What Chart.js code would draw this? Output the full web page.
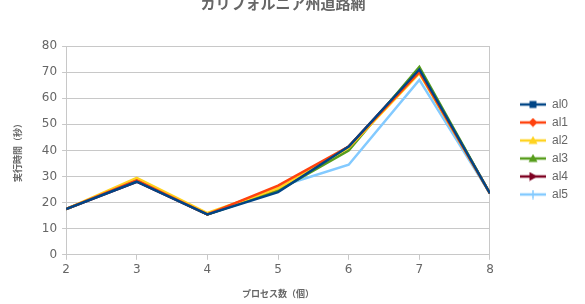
<!DOCTYPE html>
<html>
<head>
<meta charset="utf-8">
<script src="https://cdn.jsdelivr.net/npm/chart.js@4"></script>
<style>
  html, body { margin: 0; padding: 0; background: #fff; }
  #wrap { width: 585px; height: 304px; }
</style>
</head>
<body>
<div id="wrap"><canvas id="c" width="585" height="304"></canvas></div>
<script>
// プロセス数ごとの実行時間 (秒)
const procs = [2, 3, 4, 5, 6, 7, 8];
const al0 = [17.5, 28, 15.5, 24, 41.5, 71, 23.5];
const al1 = [17.5, 28.5, 15.5, 26.5, 41.5, 70, 23.5];
const al2 = [17.5, 29.5, 16, 25.5, 41, 69.5, 23.5];
const al3 = [17.5, 28.5, 15.5, 24.5, 40, 72, 23.5];
const al4 = [17.5, 28, 15.5, 25, 41.5, 71, 23.5];
const al5 = [17.5, 28.5, 15.5, 26, 34.5, 67, 23.5];

const names = ["al0", "al1", "al2", "al3", "al4", "al5"];
const series = [al0, al1, al2, al3, al4, al5];
const colors = ["#004586", "#ff420e", "#ffd320", "#579d1c", "#7e0021", "#83caff"];
const markers = ["square", "diamond", "triUp", "triUp", "triRight", "cross"];

// legend icon: short line + marker, like the office chart
function makeIcon(color, shape){
  const cv = document.createElement("canvas");
  cv.width = 26; cv.height = 10;
  const g = cv.getContext("2d");
  g.strokeStyle = color; g.fillStyle = color;
  g.lineWidth = 2.5;
  g.beginPath(); g.moveTo(0, 5); g.lineTo(26, 5); g.stroke();
  const cx = 13, cy = 5, r = 3.5;
  g.beginPath();
  if (shape === "square") g.rect(cx - r, cy - r, 2*r, 2*r);
  else if (shape === "diamond") { g.moveTo(cx, cy-r-1); g.lineTo(cx+r+1, cy); g.lineTo(cx, cy+r+1); g.lineTo(cx-r-1, cy); g.closePath(); }
  else if (shape === "triUp") { g.moveTo(cx, cy-r-1); g.lineTo(cx+r+1, cy+r); g.lineTo(cx-r-1, cy+r); g.closePath(); }
  else if (shape === "triRight") { g.moveTo(cx+r+1, cy); g.lineTo(cx-r, cy-r-1); g.lineTo(cx-r, cy+r+1); g.closePath(); }
  if (shape === "cross") { g.lineWidth = 1.5; g.moveTo(cx, cy-r-1); g.lineTo(cx, cy+r+1); g.stroke(); }
  else g.fill();
  return cv;
}

const datasets = names.map((n, i) => ({
  label: n,
  data: series[i].map((v, k) => ({ x: procs[k], y: v })),
  borderColor: colors[i],
  backgroundColor: colors[i],
  borderWidth: 2.5,
  pointRadius: 0,
  pointStyle: makeIcon(colors[i], markers[i]),
  tension: 0
}));

const gridGray = "#c8c8c8";
const LEGEND_SHIFT = 24; // legend sits a bit right of where chart.js centres it

const legendShift = {
  id: "legendShift",
  afterLayout(chart){
    chart.legend.left += LEGEND_SHIFT;
    chart.legend.right += LEGEND_SHIFT;
  }
};

new Chart(document.getElementById("c"), {
  type: "line",
  data: { datasets },
  plugins: [legendShift],
  options: {
    responsive: false,
    animation: false,
    layout: { padding: { left: 12, right: 31, top: 0, bottom: 5 } },
    plugins: {
      title: {
        display: true,
        text: "カリフォルニア州道路網",
        color: "#666",
        font: { family: "Noto Sans CJK JP", size: 15, weight: "bold" },
        padding: { top: -6, bottom: 34 }
      },
      legend: {
        position: "right",
        align: "center",
        labels: {
          usePointStyle: true,
          pointStyleWidth: 26,
          color: "#666",
          font: { family: "Liberation Sans", size: 12 },
          padding: 6,
          boxHeight: 12
        }
      },
      tooltip: { enabled: false }
    },
    scales: {
      x: {
        type: "linear",
        min: 2, max: 8,
        ticks: { stepSize: 1, color: "#666", font: { family: "DejaVu Sans", size: 12 }, padding: 3 },
        grid: {
          drawOnChartArea: true,
          color: c => (c.tick && c.tick.value === 8) ? gridGray : "rgba(0,0,0,0)",
          tickColor: gridGray,
          tickLength: 5
        },
        border: { color: gridGray },
        title: {
          display: true,
          text: "プロセス数（個）",
          color: "#666",
          font: { family: "Noto Sans CJK JP", size: 9, weight: "bold" },
          padding: { top: 8, bottom: 0 }
        }
      },
      y: {
        min: 0, max: 80,
        ticks: { stepSize: 10, color: "#666", font: { family: "DejaVu Sans", size: 12 }, padding: 5 },
        grid: { color: gridGray, tickColor: gridGray, tickLength: 4 },
        border: { color: gridGray },
        title: {
          display: true,
          text: "実行時間（秒）",
          color: "#666",
          font: { family: "Noto Sans CJK JP", size: 9, weight: "bold" },
          padding: { top: 0, bottom: 14 }
        }
      }
    }
  }
});
</script>
</body>
</html>
